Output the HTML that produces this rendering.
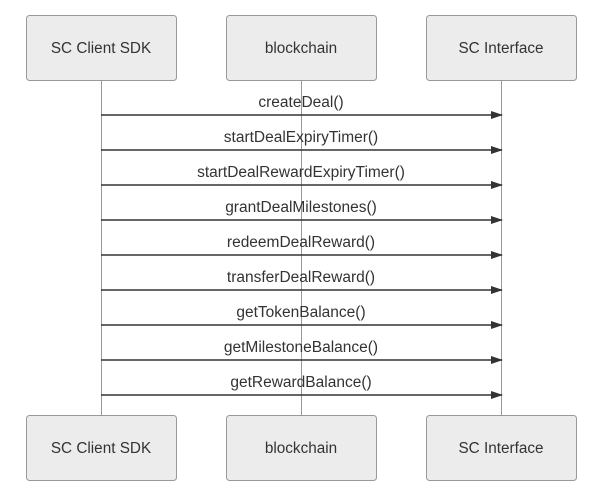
<!DOCTYPE html>
<html><head><meta charset="utf-8"><style>html,body{margin:0;padding:0;background:#fff;}</style></head>
<body>
<svg width="599" height="499" xmlns="http://www.w3.org/2000/svg" font-family="Liberation Sans, sans-serif">
<defs><marker id="a" markerWidth="12" markerHeight="8" refX="11" refY="4" orient="auto" markerUnits="userSpaceOnUse"><path d="M0,0 L12,4 L0,8 z" fill="#333"/></marker></defs>
<g stroke="#999" stroke-width="1">
<line x1="101.5" y1="80" x2="101.5" y2="415"/>
<line x1="301.5" y1="80" x2="301.5" y2="415"/>
<line x1="501.5" y1="80" x2="501.5" y2="415"/>
</g>
<g fill="#ececec" stroke="#999" stroke-width="1">
<rect x="26.5" y="15.5" width="150" height="65" rx="3"/>
<rect x="226.5" y="15.5" width="150" height="65" rx="3"/>
<rect x="426.5" y="15.5" width="150" height="65" rx="3"/>
<rect x="26.5" y="415.5" width="150" height="65" rx="3"/>
<rect x="226.5" y="415.5" width="150" height="65" rx="3"/>
<rect x="426.5" y="415.5" width="150" height="65" rx="3"/>
</g>
<g font-size="15.3" fill="#333" text-anchor="middle">
<text x="101" y="53">SC Client SDK</text><text x="301" y="53">blockchain</text><text x="501" y="53">SC Interface</text>
<text x="101" y="453">SC Client SDK</text><text x="301" y="453">blockchain</text><text x="501" y="453">SC Interface</text>
</g>
<g stroke="#333" stroke-width="1.5" marker-end="url(#a)">
<line x1="101" y1="115" x2="502" y2="115"/>
<line x1="101" y1="150" x2="502" y2="150"/>
<line x1="101" y1="185" x2="502" y2="185"/>
<line x1="101" y1="220" x2="502" y2="220"/>
<line x1="101" y1="255" x2="502" y2="255"/>
<line x1="101" y1="290" x2="502" y2="290"/>
<line x1="101" y1="325" x2="502" y2="325"/>
<line x1="101" y1="360" x2="502" y2="360"/>
<line x1="101" y1="395" x2="502" y2="395"/>
</g>
<g font-size="15.5" fill="#333" text-anchor="middle">
<text x="301" y="107">createDeal()</text>
<text x="301" y="142">startDealExpiryTimer()</text>
<text x="301" y="177">startDealRewardExpiryTimer()</text>
<text x="301" y="212">grantDealMilestones()</text>
<text x="301" y="247">redeemDealReward()</text>
<text x="301" y="282">transferDealReward()</text>
<text x="301" y="317">getTokenBalance()</text>
<text x="301" y="352">getMilestoneBalance()</text>
<text x="301" y="387">getRewardBalance()</text>
</g>
</svg>
</body></html>
